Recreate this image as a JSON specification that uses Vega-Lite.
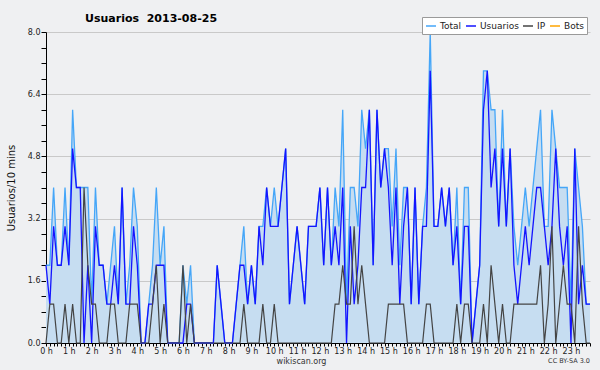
{
  "$schema": "https://vega.github.io/schema/vega-lite/v6.json",
  "width": 544,
  "height": 311,
  "autosize": {"type": "none"},
  "padding": {"left": 46, "top": 32, "right": 10, "bottom": 27},
  "background": "#eff0f2",
  "config": {"view": {"stroke": null, "fill": "#eff0f2"}, "font": "DejaVu Sans"},
  "title": {"text": "Usuarios\u00a0\u00a02013-08-25", "anchor": "start", "frame": "group", "dx": 39, "offset": -7, "font": "DejaVu Sans", "fontSize": 11, "fontWeight": "bold", "color": "#000"},
  "data": {"values": [
    {"m":0,"Total":2,"Usuarios":2,"IP":0,"Bots":0},
    {"m":10,"Total":2,"Usuarios":1,"IP":1,"Bots":0},
    {"m":20,"Total":4,"Usuarios":3,"IP":1,"Bots":0},
    {"m":30,"Total":2,"Usuarios":2,"IP":0,"Bots":0},
    {"m":40,"Total":2,"Usuarios":2,"IP":0,"Bots":0},
    {"m":50,"Total":4,"Usuarios":3,"IP":1,"Bots":0},
    {"m":60,"Total":2,"Usuarios":2,"IP":0,"Bots":0},
    {"m":70,"Total":6,"Usuarios":5,"IP":1,"Bots":0},
    {"m":80,"Total":4,"Usuarios":4,"IP":0,"Bots":0},
    {"m":90,"Total":4,"Usuarios":4,"IP":0,"Bots":0},
    {"m":100,"Total":4,"Usuarios":0,"IP":4,"Bots":0},
    {"m":110,"Total":4,"Usuarios":2,"IP":2,"Bots":0},
    {"m":120,"Total":1,"Usuarios":0,"IP":1,"Bots":0},
    {"m":130,"Total":4,"Usuarios":3,"IP":1,"Bots":0},
    {"m":140,"Total":2,"Usuarios":2,"IP":0,"Bots":0},
    {"m":150,"Total":2,"Usuarios":2,"IP":0,"Bots":0},
    {"m":160,"Total":1,"Usuarios":1,"IP":0,"Bots":0},
    {"m":170,"Total":2,"Usuarios":1,"IP":1,"Bots":0},
    {"m":180,"Total":3,"Usuarios":2,"IP":1,"Bots":0},
    {"m":190,"Total":1,"Usuarios":1,"IP":0,"Bots":0},
    {"m":200,"Total":4,"Usuarios":4,"IP":0,"Bots":0},
    {"m":210,"Total":1,"Usuarios":1,"IP":0,"Bots":0},
    {"m":220,"Total":2,"Usuarios":1,"IP":1,"Bots":0},
    {"m":230,"Total":4,"Usuarios":3,"IP":1,"Bots":0},
    {"m":240,"Total":3,"Usuarios":2,"IP":1,"Bots":0},
    {"m":250,"Total":0,"Usuarios":0,"IP":0,"Bots":0},
    {"m":260,"Total":0,"Usuarios":0,"IP":0,"Bots":0},
    {"m":270,"Total":1,"Usuarios":1,"IP":0,"Bots":0},
    {"m":280,"Total":2,"Usuarios":1,"IP":1,"Bots":0},
    {"m":290,"Total":4,"Usuarios":2,"IP":2,"Bots":0},
    {"m":300,"Total":2,"Usuarios":2,"IP":0,"Bots":0},
    {"m":310,"Total":3,"Usuarios":2,"IP":1,"Bots":0},
    {"m":320,"Total":0,"Usuarios":0,"IP":0,"Bots":0},
    {"m":330,"Total":0,"Usuarios":0,"IP":0,"Bots":0},
    {"m":340,"Total":0,"Usuarios":0,"IP":0,"Bots":0},
    {"m":350,"Total":0,"Usuarios":0,"IP":0,"Bots":0},
    {"m":360,"Total":2,"Usuarios":0,"IP":2,"Bots":0},
    {"m":370,"Total":1,"Usuarios":1,"IP":0,"Bots":0},
    {"m":380,"Total":2,"Usuarios":1,"IP":1,"Bots":0},
    {"m":390,"Total":0,"Usuarios":0,"IP":0,"Bots":0},
    {"m":400,"Total":0,"Usuarios":0,"IP":0,"Bots":0},
    {"m":410,"Total":0,"Usuarios":0,"IP":0,"Bots":0},
    {"m":420,"Total":0,"Usuarios":0,"IP":0,"Bots":0},
    {"m":430,"Total":0,"Usuarios":0,"IP":0,"Bots":0},
    {"m":440,"Total":0,"Usuarios":0,"IP":0,"Bots":0},
    {"m":450,"Total":2,"Usuarios":2,"IP":0,"Bots":0},
    {"m":460,"Total":1,"Usuarios":1,"IP":0,"Bots":0},
    {"m":470,"Total":0,"Usuarios":0,"IP":0,"Bots":0},
    {"m":480,"Total":0,"Usuarios":0,"IP":0,"Bots":0},
    {"m":490,"Total":0,"Usuarios":0,"IP":0,"Bots":0},
    {"m":500,"Total":1,"Usuarios":1,"IP":0,"Bots":0},
    {"m":510,"Total":2,"Usuarios":2,"IP":0,"Bots":0},
    {"m":520,"Total":3,"Usuarios":2,"IP":1,"Bots":0},
    {"m":530,"Total":1,"Usuarios":1,"IP":0,"Bots":0},
    {"m":540,"Total":2,"Usuarios":2,"IP":0,"Bots":0},
    {"m":550,"Total":1,"Usuarios":1,"IP":0,"Bots":0},
    {"m":560,"Total":3,"Usuarios":3,"IP":0,"Bots":0},
    {"m":570,"Total":3,"Usuarios":2,"IP":1,"Bots":0},
    {"m":580,"Total":4,"Usuarios":4,"IP":0,"Bots":0},
    {"m":590,"Total":3,"Usuarios":3,"IP":0,"Bots":0},
    {"m":600,"Total":4,"Usuarios":3,"IP":1,"Bots":0},
    {"m":610,"Total":3,"Usuarios":3,"IP":0,"Bots":0},
    {"m":620,"Total":4,"Usuarios":4,"IP":0,"Bots":0},
    {"m":630,"Total":5,"Usuarios":5,"IP":0,"Bots":0},
    {"m":640,"Total":1,"Usuarios":1,"IP":0,"Bots":0},
    {"m":650,"Total":2,"Usuarios":2,"IP":0,"Bots":0},
    {"m":660,"Total":3,"Usuarios":3,"IP":0,"Bots":0},
    {"m":670,"Total":2,"Usuarios":2,"IP":0,"Bots":0},
    {"m":680,"Total":1,"Usuarios":1,"IP":0,"Bots":0},
    {"m":690,"Total":3,"Usuarios":3,"IP":0,"Bots":0},
    {"m":700,"Total":3,"Usuarios":3,"IP":0,"Bots":0},
    {"m":710,"Total":3,"Usuarios":3,"IP":0,"Bots":0},
    {"m":720,"Total":4,"Usuarios":4,"IP":0,"Bots":0},
    {"m":730,"Total":2,"Usuarios":2,"IP":0,"Bots":0},
    {"m":740,"Total":4,"Usuarios":4,"IP":0,"Bots":0},
    {"m":750,"Total":2,"Usuarios":2,"IP":0,"Bots":0},
    {"m":760,"Total":4,"Usuarios":3,"IP":1,"Bots":0},
    {"m":770,"Total":3,"Usuarios":2,"IP":1,"Bots":0},
    {"m":780,"Total":6,"Usuarios":4,"IP":2,"Bots":0},
    {"m":790,"Total":1,"Usuarios":0,"IP":1,"Bots":0},
    {"m":800,"Total":4,"Usuarios":3,"IP":1,"Bots":0},
    {"m":810,"Total":4,"Usuarios":1,"IP":3,"Bots":0},
    {"m":820,"Total":3,"Usuarios":2,"IP":1,"Bots":0},
    {"m":830,"Total":6,"Usuarios":4,"IP":2,"Bots":0},
    {"m":840,"Total":5,"Usuarios":4,"IP":1,"Bots":0},
    {"m":850,"Total":6,"Usuarios":6,"IP":0,"Bots":0},
    {"m":860,"Total":2,"Usuarios":2,"IP":0,"Bots":0},
    {"m":870,"Total":6,"Usuarios":6,"IP":0,"Bots":0},
    {"m":880,"Total":4,"Usuarios":4,"IP":0,"Bots":0},
    {"m":890,"Total":5,"Usuarios":5,"IP":0,"Bots":0},
    {"m":900,"Total":5,"Usuarios":4,"IP":1,"Bots":0},
    {"m":910,"Total":3,"Usuarios":2,"IP":1,"Bots":0},
    {"m":920,"Total":5,"Usuarios":4,"IP":1,"Bots":0},
    {"m":930,"Total":2,"Usuarios":1,"IP":1,"Bots":0},
    {"m":940,"Total":4,"Usuarios":3,"IP":1,"Bots":0},
    {"m":950,"Total":4,"Usuarios":4,"IP":0,"Bots":0},
    {"m":960,"Total":1,"Usuarios":1,"IP":0,"Bots":0},
    {"m":970,"Total":4,"Usuarios":4,"IP":0,"Bots":0},
    {"m":980,"Total":1,"Usuarios":1,"IP":0,"Bots":0},
    {"m":990,"Total":3,"Usuarios":3,"IP":0,"Bots":0},
    {"m":1000,"Total":4,"Usuarios":3,"IP":1,"Bots":0},
    {"m":1010,"Total":8,"Usuarios":7,"IP":1,"Bots":0},
    {"m":1020,"Total":3,"Usuarios":3,"IP":0,"Bots":0},
    {"m":1030,"Total":3,"Usuarios":3,"IP":0,"Bots":0},
    {"m":1040,"Total":4,"Usuarios":4,"IP":0,"Bots":0},
    {"m":1050,"Total":3,"Usuarios":3,"IP":0,"Bots":0},
    {"m":1060,"Total":4,"Usuarios":4,"IP":0,"Bots":0},
    {"m":1070,"Total":2,"Usuarios":2,"IP":0,"Bots":0},
    {"m":1080,"Total":4,"Usuarios":3,"IP":1,"Bots":0},
    {"m":1090,"Total":1,"Usuarios":1,"IP":0,"Bots":0},
    {"m":1100,"Total":4,"Usuarios":3,"IP":1,"Bots":0},
    {"m":1110,"Total":4,"Usuarios":3,"IP":1,"Bots":0},
    {"m":1120,"Total":0,"Usuarios":0,"IP":0,"Bots":0},
    {"m":1130,"Total":1,"Usuarios":1,"IP":0,"Bots":0},
    {"m":1140,"Total":2,"Usuarios":2,"IP":0,"Bots":0},
    {"m":1150,"Total":7,"Usuarios":6,"IP":1,"Bots":0},
    {"m":1160,"Total":7,"Usuarios":7,"IP":0,"Bots":0},
    {"m":1170,"Total":6,"Usuarios":4,"IP":2,"Bots":0},
    {"m":1180,"Total":6,"Usuarios":5,"IP":1,"Bots":0},
    {"m":1190,"Total":3,"Usuarios":3,"IP":0,"Bots":0},
    {"m":1200,"Total":6,"Usuarios":5,"IP":1,"Bots":0},
    {"m":1210,"Total":3,"Usuarios":3,"IP":0,"Bots":0},
    {"m":1220,"Total":5,"Usuarios":5,"IP":0,"Bots":0},
    {"m":1230,"Total":3,"Usuarios":2,"IP":1,"Bots":0},
    {"m":1240,"Total":2,"Usuarios":1,"IP":1,"Bots":0},
    {"m":1250,"Total":3,"Usuarios":2,"IP":1,"Bots":0},
    {"m":1260,"Total":4,"Usuarios":3,"IP":1,"Bots":0},
    {"m":1270,"Total":3,"Usuarios":2,"IP":1,"Bots":0},
    {"m":1280,"Total":4,"Usuarios":3,"IP":1,"Bots":0},
    {"m":1290,"Total":5,"Usuarios":4,"IP":1,"Bots":0},
    {"m":1300,"Total":6,"Usuarios":4,"IP":2,"Bots":0},
    {"m":1310,"Total":3,"Usuarios":3,"IP":0,"Bots":0},
    {"m":1320,"Total":3,"Usuarios":2,"IP":1,"Bots":0},
    {"m":1330,"Total":6,"Usuarios":3,"IP":3,"Bots":0},
    {"m":1340,"Total":5,"Usuarios":5,"IP":0,"Bots":0},
    {"m":1350,"Total":4,"Usuarios":3,"IP":1,"Bots":0},
    {"m":1360,"Total":4,"Usuarios":2,"IP":2,"Bots":0},
    {"m":1370,"Total":4,"Usuarios":3,"IP":1,"Bots":0},
    {"m":1380,"Total":1,"Usuarios":0,"IP":1,"Bots":0},
    {"m":1390,"Total":5,"Usuarios":5,"IP":0,"Bots":0},
    {"m":1400,"Total":4,"Usuarios":1,"IP":3,"Bots":0},
    {"m":1410,"Total":3,"Usuarios":2,"IP":1,"Bots":0},
    {"m":1420,"Total":1,"Usuarios":1,"IP":0,"Bots":0},
    {"m":1430,"Total":1,"Usuarios":1,"IP":0,"Bots":0}
  ]},
  "transform": [{"fold": ["Total", "Usuarios", "IP"], "as": ["serie", "valor"]}],
  "encoding": {
    "x": {"field": "m", "type": "quantitative",
      "scale": {"domain": [0, 1430], "nice": false, "zero": false},
      "axis": {"tickCount": 143, "labelExpr": "datum.value % 60 == 0 ? (datum.value / 60) + ' h' : ''",
        "labelOverlap": false, "labelFlush": false, "labelFontSize": 8, "labelPadding": 1, "labelColor": "#222",
        "tickSize": 3, "tickColor": "#000", "domainColor": "#000", "grid": false,
        "title": "wikiscan.org", "titleFontSize": 8, "titleFontWeight": "normal", "titleColor": "#333", "titleX": 255, "titlePadding": 2}},
    "y": {"field": "valor", "type": "quantitative",
      "scale": {"domain": [0, 8], "nice": false},
      "axis": {"values": [0,0.4,0.8,1.2,1.6,2,2.4,2.8,3.2,3.6,4,4.4,4.8,5.2,5.6,6,6.4,6.8,7.2,7.6,8],
        "labelExpr": "abs(datum.value/1.6 - round(datum.value/1.6)) < 0.001 ? format(datum.value, '.1f') : ''",
        "grid": true, "gridColor": "#c9c9c9",
        "gridOpacity": {"condition": {"test": "abs(datum.value/1.6 - round(datum.value/1.6)) < 0.001", "value": 1}, "value": 0},
        "tickSize": 5, "tickColor": "#000", "domainColor": "#000", "labelFontSize": 8, "labelPadding": 1, "labelColor": "#222",
        "title": "Usuarios/10 mins", "titleFontSize": 10, "titleFontWeight": "normal", "titleColor": "#111", "titlePadding": 11}}
  },
  "layer": [
    {"transform": [{"filter": "datum.serie == 'Total'"}],
     "mark": {"type": "area", "color": "#c6ddf1", "opacity": 1}},
    {"transform": [{"filter": "datum.serie == 'Total'"}],
     "mark": {"type": "line", "strokeWidth": 1.3},
     "encoding": {"color": {"datum": "Total",
       "scale": {"domain": ["Total", "Usuarios", "IP", "Bots"], "range": ["#45a6f8", "#1414ff", "#444444", "#ffa500"]},
       "legend": {"orient": "none", "legendX": 376, "legendY": -15, "direction": "horizontal", "title": null,
         "symbolType": "stroke", "symbolSize": 100, "symbolStrokeWidth": 1.5, "labelFontSize": 9, "labelColor": "#222",
         "labelOffset": 3, "columnPadding": 1, "padding": 3, "fillColor": "#ffffff", "strokeColor": "#9a9a9a"}}}},
    {"transform": [{"filter": "datum.serie == 'Usuarios'"}],
     "mark": {"type": "line", "strokeWidth": 1.3},
     "encoding": {"color": {"datum": "Usuarios"}}},
    {"transform": [{"filter": "datum.serie == 'IP'"}],
     "mark": {"type": "line", "strokeWidth": 1.2},
     "encoding": {"color": {"datum": "IP"}}},
    {"transform": [{"filter": "datum.serie == 'Total' && datum.m == 0"}],
     "mark": {"type": "text", "text": "CC BY-SA 3.0", "align": "right", "baseline": "middle", "fontSize": 6.5, "color": "#333", "clip": false},
     "encoding": {"x": {"datum": 1430}, "y": {"datum": -0.46}}}
  ]
}
